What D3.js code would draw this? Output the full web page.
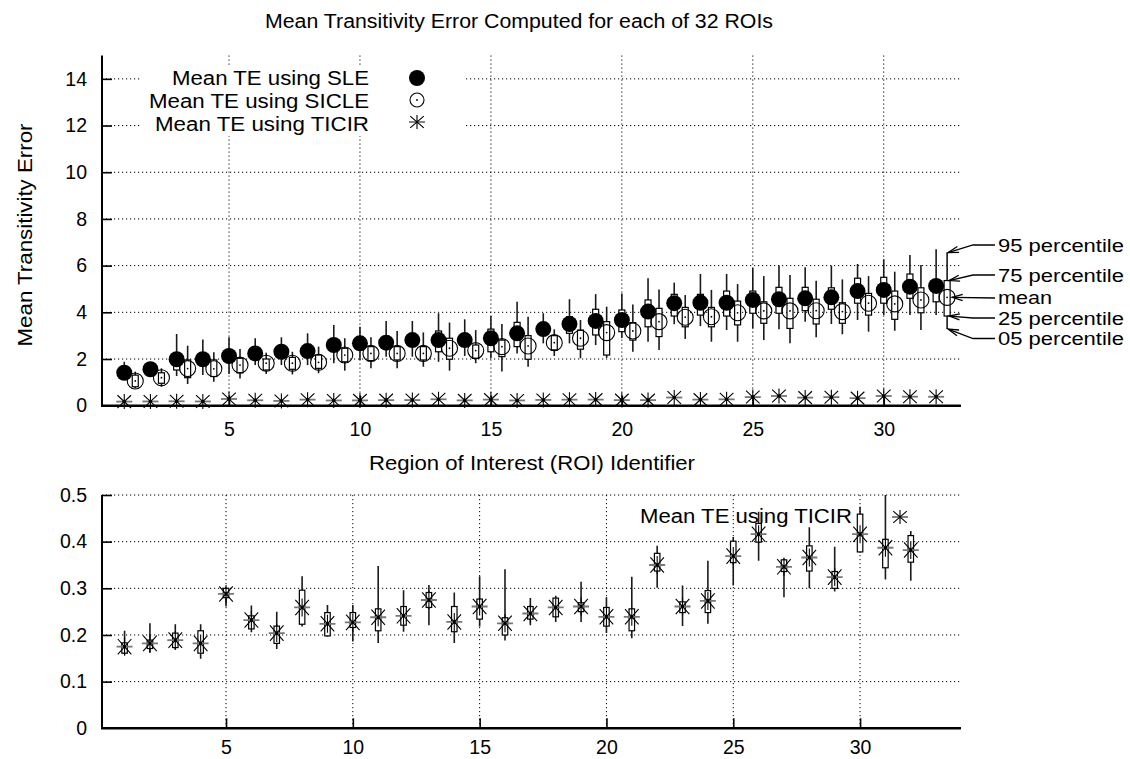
<!DOCTYPE html>
<html><head><meta charset="utf-8">
<script src="https://cdn.jsdelivr.net/npm/d3@7"></script>
<style>
body{margin:0;background:#fff}
svg text{font-family:"Liberation Sans",Arial,sans-serif;font-size:19.5px;fill:#000}
</style></head><body>
<svg id="chart" width="1130" height="759"></svg>
<script>
// ROI identifiers
const roiIds = [1,2,3,4,5,6,7,8,9,10,11,12,13,14,15,16,17,18,19,20,21,22,23,24,25,26,27,28,29,30,31,32];

// Transitivity error using SLE: mean and percentiles
const sleMean = [1.41,1.56,1.99,1.99,2.13,2.24,2.31,2.34,2.60,2.67,2.70,2.81,2.81,2.81,2.89,3.10,3.28,3.50,3.63,3.67,4.03,4.39,4.41,4.41,4.53,4.56,4.60,4.64,4.91,4.96,5.10,5.13];
const sleP05  = [1.15,1.24,1.27,1.31,1.36,1.74,1.74,1.74,1.82,1.96,2.10,2.10,1.88,2.13,2.03,2.24,2.67,2.67,2.60,2.90,2.74,3.49,3.41,3.24,3.31,3.27,3.60,3.50,3.67,3.88,3.88,3.88];
const sleP25  = [1.25,1.38,1.53,1.78,1.92,2.04,2.10,2.12,2.38,2.45,2.48,2.58,2.31,2.58,2.31,2.53,3.05,3.10,3.03,3.17,3.38,3.84,3.88,3.84,3.96,3.96,4.07,4.13,4.39,4.39,4.60,4.45];
const sleP75  = [1.62,1.76,2.20,2.20,2.35,2.46,2.52,2.56,2.82,2.88,2.92,3.02,3.20,3.02,3.28,3.57,3.50,3.81,4.13,4.10,4.53,4.77,4.77,4.91,4.91,5.07,5.07,5.05,5.46,5.50,5.64,5.40];
const sleP95  = [1.88,1.86,3.07,2.84,2.93,2.89,2.93,3.10,3.46,3.38,3.63,3.63,3.96,3.70,3.84,4.45,3.96,4.56,4.78,4.81,5.46,5.27,5.64,5.64,5.91,6.00,5.93,6.00,6.07,6.27,6.45,6.70];

// Transitivity error using SICLE
const sicleMean = [1.06,1.20,1.59,1.58,1.74,1.82,1.82,1.86,2.17,2.24,2.24,2.24,2.46,2.36,2.53,2.56,2.70,2.89,3.13,3.20,3.60,3.79,3.81,3.98,4.06,4.06,4.07,4.03,4.39,4.36,4.53,4.64];
const sicleP05  = [0.75,0.81,0.93,1.03,1.17,1.36,1.34,1.39,1.50,1.60,1.60,1.67,1.50,1.82,1.46,1.67,2.13,2.03,2.05,2.31,2.39,2.86,2.74,2.74,2.81,2.67,2.93,3.06,3.17,3.21,3.24,3.28];
const sicleP25  = [0.81,0.96,1.20,1.25,1.41,1.53,1.56,1.60,1.88,1.93,1.96,1.96,1.99,2.03,2.10,1.99,2.39,2.42,2.17,2.81,2.96,3.38,3.38,3.46,3.53,3.31,3.50,3.53,3.88,3.70,3.98,3.84];
const sicleP75  = [1.31,1.41,1.96,1.96,2.03,2.00,2.07,2.17,2.46,2.53,2.53,2.53,2.89,2.60,2.81,3.00,3.00,3.24,3.60,3.56,4.17,4.21,4.21,4.48,4.45,4.60,4.56,4.41,4.81,4.91,5.05,5.36];
const sicleP95  = [1.46,1.60,2.57,2.29,2.43,2.27,2.31,2.53,2.89,2.93,3.20,3.14,3.56,3.24,3.50,3.81,3.27,3.67,4.24,4.34,4.98,4.74,4.96,5.21,5.55,5.60,5.35,5.41,5.55,5.74,6.03,6.56];

// Transitivity error using TICIR
const ticirMean = [0.175,0.182,0.189,0.182,0.288,0.232,0.204,0.259,0.224,0.227,0.238,0.241,0.275,0.228,0.261,0.225,0.246,0.259,0.261,0.239,0.239,0.350,0.261,0.273,0.369,0.416,0.346,0.366,0.324,0.416,0.387,0.382];
const ticirP05  = [0.158,0.162,0.168,0.149,0.261,0.206,0.170,0.218,0.196,0.186,0.183,0.207,0.221,0.183,0.218,0.188,0.221,0.228,0.228,0.204,0.193,0.301,0.219,0.224,0.306,0.359,0.281,0.300,0.293,0.377,0.319,0.316];
const ticirP25  = [0.161,0.171,0.173,0.161,0.280,0.213,0.182,0.223,0.198,0.216,0.209,0.221,0.259,0.207,0.234,0.200,0.234,0.239,0.250,0.219,0.209,0.337,0.248,0.248,0.355,0.399,0.336,0.337,0.300,0.378,0.344,0.356];
const ticirP75  = [0.183,0.189,0.204,0.209,0.300,0.241,0.219,0.296,0.248,0.248,0.256,0.261,0.291,0.261,0.277,0.237,0.261,0.279,0.269,0.259,0.256,0.375,0.271,0.295,0.401,0.439,0.361,0.391,0.336,0.459,0.405,0.413];
const ticirP95  = [0.209,0.225,0.223,0.223,0.303,0.263,0.250,0.326,0.264,0.264,0.348,0.296,0.307,0.291,0.326,0.341,0.279,0.284,0.314,0.281,0.325,0.391,0.306,0.359,0.410,0.464,0.364,0.431,0.389,0.475,0.520,0.423];

// Tick values and labels
const xTicks = [5,10,15,20,25,30];
const xTickLabels = ["5","10","15","20","25","30"];
const yTicksTop = [0,2,4,6,8,10,12,14];
const yTickLabelsTop = ["0","2","4","6","8","10","12","14"];
const yTicksBottom = [0,0.1,0.2,0.3,0.4,0.5];
const yTickLabelsBottom = ["0","0.1","0.2","0.3","0.4","0.5"];

const seriesNames = ["Mean TE using SLE","Mean TE using SICLE","Mean TE using TICIR"];
const percentileNames = ["95 percentile","75 percentile","mean","25 percentile","05 percentile"];

const svg = d3.select("#chart");

// Scales
const xTop = d3.scaleLinear().domain([0.15, 32.95]).range([102, 961]);
const yTop = d3.scaleLinear().domain([0, 15]).range([405.7, 55.5]);
const xBot = d3.scaleLinear().domain([0.11, 33.98]).range([102, 961]);
const yBot = d3.scaleLinear().domain([0, 0.5]).range([728.3, 495]);
const sicleShift = 0.42;

const dots = "1.2,2.8";

function grid(g, xs, ys, xVals, yVals, yMax) {
  const [x0, x1] = xs.range();
  yVals.filter(v => v > 0).forEach(v => {
    g.append("line").attr("x1", x0).attr("x2", x1).attr("y1", ys(v)).attr("y2", ys(v))
      .attr("stroke", "#000").attr("stroke-width", 1).attr("stroke-dasharray", dots);
  });
  xVals.forEach(v => {
    g.append("line").attr("x1", xs(v)).attr("x2", xs(v)).attr("y1", ys(yMax)).attr("y2", ys(0))
      .attr("stroke", "#000").attr("stroke-width", 1).attr("stroke-dasharray", dots);
  });
}

function axes(g, xs, ys, yVals, yLabels, xPad, yMax) {
  const ya = g.append("g").attr("transform", `translate(${xs.range()[0]},0)`)
    .call(d3.axisLeft(ys).tickValues(yVals).tickFormat((d, i) => yLabels[i])
      .tickSizeInner(-10).tickSizeOuter(0).tickPadding(15));
  const xa = g.append("g").attr("transform", `translate(0,${ys(0)})`)
    .call(d3.axisBottom(xs).tickValues(xTicks).tickFormat((d, i) => xTickLabels[i])
      .tickSizeInner(-10).tickSizeOuter(0).tickPadding(xPad));
  [ya, xa].forEach(a => {
    a.select(".domain").remove();
    a.selectAll(".tick line").attr("stroke", "#000").attr("stroke-width", 1.6);
    a.selectAll(".tick text").attr("font-size", null).attr("font-family", null).style("fill", "#000");
  });
  ya.selectAll(".tick").filter(d => d === 0).select("line").remove();
  g.append("line").attr("x1", xs.range()[0]).attr("x2", xs.range()[0])
    .attr("y1", ys(yMax)).attr("y2", ys(0)).attr("stroke", "#000").attr("stroke-width", 2);
  g.append("line").attr("x1", xs.range()[0] - 1).attr("x2", xs.range()[1])
    .attr("y1", ys(0)).attr("y2", ys(0)).attr("stroke", "#000").attr("stroke-width", 2.6);
}

function boxes(g, xs, ys, shift, p05, p25, p75, p95, bw) {
  g.selectAll(null).data(roiIds).join("line")
    .attr("x1", (d, i) => xs(d + shift)).attr("x2", (d, i) => xs(d + shift))
    .attr("y1", (d, i) => ys(p05[i])).attr("y2", (d, i) => ys(p95[i]))
    .attr("stroke", "#1a1a1a").attr("stroke-width", 1.6);
  g.selectAll(null).data(roiIds).join("rect")
    .attr("x", (d, i) => xs(d + shift) - bw / 2).attr("width", bw)
    .attr("y", (d, i) => ys(p75[i])).attr("height", (d, i) => ys(p25[i]) - ys(p75[i]))
    .attr("fill", "#fff").attr("stroke", "#000").attr("stroke-width", 1.2);
}

function star(g, cx, cy, rx, ry) {
  const s = g.append("g");
  s.append("line").attr("x1", cx - rx).attr("x2", cx + rx).attr("y1", cy).attr("y2", cy)
    .attr("stroke", "#777").attr("stroke-width", 1.8);
  s.append("path")
    .attr("d", `M${cx},${cy - ry}L${cx},${cy + ry}M${cx - rx * 0.85},${cy - ry * 0.85}L${cx + rx * 0.85},${cy + ry * 0.85}M${cx - rx * 0.85},${cy + ry * 0.85}L${cx + rx * 0.85},${cy - ry * 0.85}`)
    .attr("stroke", "#000").attr("stroke-width", 1.1).attr("fill", "none");
  return s;
}

// ---------- Upper panel ----------
const gTop = svg.append("g");
grid(gTop, xTop, yTop, xTicks, yTicksTop, 15);

// legend background
gTop.append("rect").attr("x", 140).attr("y", 66).attr("width", 326).attr("height", 70).attr("fill", "#fff");

axes(gTop, xTop, yTop, yTicksTop, yTickLabelsTop, 16.5, 15);

const gData = gTop.append("g");
boxes(gData, xTop, yTop, 0, sleP05, sleP25, sleP75, sleP95, 6);
boxes(gData, xTop, yTop, sicleShift, sicleP05, sicleP25, sicleP75, sicleP95, 6);

gData.selectAll(null).data(roiIds).join("circle")
  .attr("cx", d => xTop(d)).attr("cy", (d, i) => yTop(sleMean[i])).attr("r", 8).attr("fill", "#000");
gData.selectAll(null).data(roiIds).join("circle")
  .attr("cx", d => xTop(d + sicleShift)).attr("cy", (d, i) => yTop(sicleMean[i])).attr("r", 8)
  .attr("fill", "none").attr("stroke", "#000").attr("stroke-width", 1.1);
gData.selectAll(null).data(roiIds).join("circle")
  .attr("cx", d => xTop(d + sicleShift)).attr("cy", (d, i) => yTop(sicleMean[i])).attr("r", 0.9).attr("fill", "#000");
roiIds.forEach((d, i) => {
  star(gData, xTop(d), yTop(ticirMean[i]), 8, 7.5);
  gData.append("circle").attr("cx", xTop(d)).attr("cy", yTop(ticirMean[i])).attr("r", 1.8).attr("fill", "#000");
});

// legend
const legY = [85, 108, 131];
seriesNames.forEach((n, i) => {
  const widths = [197, 220, 214];
  gTop.append("text").attr("x", 369).attr("y", legY[i]).attr("text-anchor", "end")
    .attr("textLength", widths[i]).attr("lengthAdjust", "spacingAndGlyphs").text(n);
});
gTop.append("circle").attr("cx", 417).attr("cy", 78).attr("r", 8).attr("fill", "#000");
gTop.append("circle").attr("cx", 417).attr("cy", 100).attr("r", 7).attr("fill", "none").attr("stroke", "#000").attr("stroke-width", 1.1);
gTop.append("circle").attr("cx", 417).attr("cy", 100).attr("r", 0.9).attr("fill", "#000");
star(gTop, 417, 122, 8, 7);

// percentile annotations on the last SICLE box
const last = roiIds.length - 1;
const ax = xTop(roiIds[last] + sicleShift);
const targets = [
  [ax + 1, yTop(sicleP95[last])],
  [ax + 2, yTop(sicleP75[last])],
  [ax + 5, yTop(sicleMean[last])],
  [ax + 2, yTop(sicleP25[last])],
  [ax + 1, yTop(sicleP05[last])]
];
const labelLineY = [245, 275, 298, 318, 338.5];
const labelBase = [252, 282, 304, 324.5, 345];
const labelWidths = [126, 126, 54, 126, 126];
percentileNames.forEach((n, i) => {
  const ly = labelLineY[i];
  const [tx, ty] = targets[i];
  const pts = i === 2 ? [[995, ly], [tx, ty]] : [[995, ly], [973, ly], [tx, ty]];
  gTop.append("path").attr("d", d3.line()(pts)).attr("fill", "none").attr("stroke", "#000").attr("stroke-width", 1.3);
  const [px, py] = pts[pts.length - 2];
  const ang = Math.atan2(ty - py, tx - px);
  const hl = 11, ha = 0.28;
  const h1 = [tx - hl * Math.cos(ang - ha), ty - hl * Math.sin(ang - ha)];
  const h2 = [tx - hl * Math.cos(ang + ha), ty - hl * Math.sin(ang + ha)];
  gTop.append("path").attr("d", `M${h1[0]},${h1[1]}L${tx},${ty}L${h2[0]},${h2[1]}`)
    .attr("fill", "none").attr("stroke", "#000").attr("stroke-width", 1.3);
  gTop.append("text").attr("x", 998).attr("y", labelBase[i]).style("font-size", "17.5px")
    .attr("textLength", labelWidths[i]).attr("lengthAdjust", "spacingAndGlyphs").text(n);
});

// titles
svg.append("text").attr("x", 265).attr("y", 28).attr("textLength", 508).attr("lengthAdjust", "spacingAndGlyphs")
  .text("Mean Transitivity Error Computed for each of 32 ROIs");
svg.append("text").attr("transform", "translate(32,235) rotate(-90)").attr("text-anchor", "middle")
  .attr("textLength", 223).attr("lengthAdjust", "spacingAndGlyphs").text("Mean Transitivity Error");
svg.append("text").attr("x", 532).attr("y", 470).attr("text-anchor", "middle")
  .attr("textLength", 326).attr("lengthAdjust", "spacingAndGlyphs").text("Region of Interest (ROI) Identifier");

// ---------- Lower panel ----------
const gBot = svg.append("g");
svg.append("defs").append("clipPath").attr("id", "botClip")
  .append("rect").attr("x", 90).attr("y", yBot(0.5)).attr("width", 900).attr("height", yBot(0) - yBot(0.5) + 20);
grid(gBot, xBot, yBot, xTicks, yTicksBottom, 0.5);
axes(gBot, xBot, yBot, yTicksBottom, yTickLabelsBottom, 12, 0.5);

const gBD = gBot.append("g").attr("clip-path", "url(#botClip)");
boxes(gBD, xBot, yBot, 0, ticirP05, ticirP25, ticirP75, ticirP95, 5.5);
roiIds.forEach((d, i) => {
  star(gBD, xBot(d), yBot(ticirMean[i]), 8, 9);
  gBD.append("circle").attr("cx", xBot(d)).attr("cy", yBot(ticirMean[i])).attr("r", 1.6).attr("fill", "#000");
});

gBot.append("text").attr("x", 852).attr("y", 523).attr("text-anchor", "end")
  .attr("textLength", 212).attr("lengthAdjust", "spacingAndGlyphs").text(seriesNames[2]);
star(gBot, 900, 517, 8, 7);
</script>
</body></html>
